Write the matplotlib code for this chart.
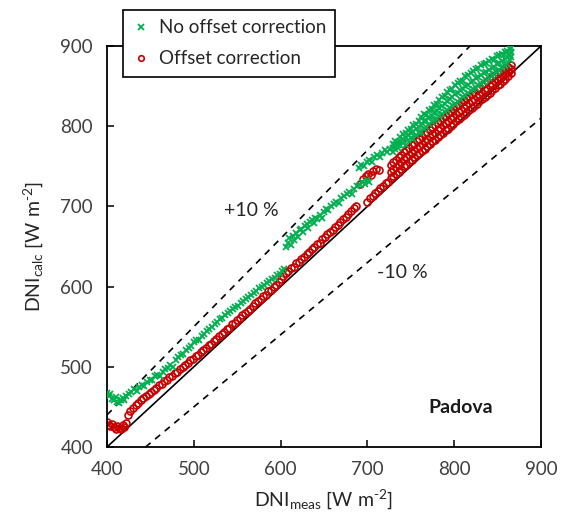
import numpy as np
import matplotlib
matplotlib.use("Agg")
import matplotlib.pyplot as plt

plt.rcParams['font.family'] = ['Lato', 'DejaVu Sans']
plt.rcParams['mathtext.default'] = 'regular'

# --- data (W m-2) ---
# no offset correction, lower part (single trace)
green_x = [400, 402, 404, 406, 408, 410, 412, 414, 416, 418, 420, 422, 425, 428, 431, 434, 437, 440,
           443, 446, 449, 452, 455, 458, 461, 464, 467, 470, 473, 476, 479, 482, 485, 488, 491, 494,
           497, 500, 503, 506, 509, 512, 515, 518, 521, 524, 527, 530, 533, 536, 539, 542, 545, 548,
           551, 554, 557, 560, 563, 566, 569, 572, 575, 578, 581, 584, 587, 590, 593, 596, 599, 602,
           604, 606, 608, 610, 612, 614, 616, 618, 620, 622, 624, 626, 628, 630, 632, 634, 636, 638,
           640, 642, 645, 648, 650, 652, 655, 658, 661, 664, 667, 670, 673, 676, 679, 682, 685, 688,
           691, 694, 697, 700, 702, 690, 693, 696, 699, 702, 705, 708, 711, 714, 717, 720, 723, 726]
green_y = [467, 463, 466, 460, 458, 462, 456, 455, 458, 461, 459, 463, 466, 468, 472, 470, 475, 477,
           476, 481, 484, 483, 488, 490, 489, 494, 497, 499, 502, 500, 509, 512, 515, 516, 521, 524,
           526, 531, 534, 534, 539, 541, 545, 547, 550, 553, 556, 559, 561, 564, 567, 569, 572, 574,
           576, 579, 582, 584, 587, 590, 592, 595, 598, 600, 602, 605, 607, 609, 611, 614, 616, 619,
           622, 650, 655, 660, 652, 663, 658, 667, 662, 670, 672, 668, 675, 678, 673, 680, 683, 679,
           686, 684, 689, 686, 693, 697, 695, 700, 703, 706, 704, 710, 713, 715, 718, 716, 722, 725,
           727, 730, 728, 733, 731, 748, 752, 750, 755, 758, 756, 761, 764, 762, 767, 770, 768, 772]
# no offset correction, upper dense band (lower edge / middle / upper edge)
green_band_x = [729, 732, 735, 738, 741, 744, 747, 750, 753, 756, 759, 762, 765, 768, 771, 774, 777,
                780, 783, 786, 789, 792, 795, 798, 801, 804, 807, 810, 813, 816, 819, 822, 825, 828,
                831, 834, 837, 840, 843, 846, 849, 852, 855, 858, 861, 864, 866]
green_band_lo = [768, 771, 773, 776, 779, 777, 783, 785, 784, 789, 792, 793, 797, 799, 803, 805, 808,
                 809, 813, 815, 818, 820, 823, 826, 828, 830, 834, 836, 839, 841, 844, 846, 848, 851,
                 853, 855, 858, 860, 862, 865, 867, 870, 872, 875, 878, 882, 886]
green_band_mid = [773, 776, 777, 781, 784, 785, 789, 791, 793, 796, 799, 802, 806, 807, 811, 813, 817,
                  819, 823, 825, 828, 831, 834, 837, 840, 842, 845, 846, 850, 852, 855, 857, 860, 861,
                  864, 866, 868, 870, 873, 874, 877, 879, 881, 884, 886, 889, 892]
green_band_hi = [778, 782, 780, 787, 790, 792, 795, 797, 801, 803, 806, 812, 815, 814, 820, 822, 826,
                 828, 833, 836, 838, 843, 845, 847, 852, 854, 857, 856, 862, 864, 866, 869, 871, 872,
                 876, 877, 879, 881, 884, 883, 887, 889, 890, 893, 894, 896, 898]

# offset correction, lower part
red_x = [400, 402, 404, 406, 408, 410, 412, 414, 416, 418, 420, 422, 424, 427, 430, 433, 436, 439,
         442, 445, 448, 451, 454, 457, 460, 463, 466, 469, 472, 475, 478, 481, 484, 487, 490, 493,
         496, 499, 502, 505, 508, 511, 514, 517, 520, 523, 526, 529, 532, 535, 538, 541, 544, 547,
         550, 553, 556, 559, 562, 565, 568, 571, 574, 577, 580, 583, 586, 589, 592, 595, 598, 600,
         603, 606, 609, 612, 615, 618, 621, 624, 627, 630, 633, 636, 639, 642, 645, 648, 651, 654,
         657, 660, 663, 666, 669, 672, 675, 678, 681, 684, 687, 692, 695, 698, 701, 704, 707, 710,
         713, 700, 703, 706, 709, 712, 715, 718, 721, 724]
red_y = [431, 428, 426, 429, 425, 423, 426, 424, 422, 427, 425, 430, 440, 445, 449, 452, 455, 458,
         461, 463, 466, 469, 471, 474, 477, 479, 482, 484, 487, 489, 492, 494, 497, 500, 502, 505,
         508, 510, 513, 515, 519, 521, 524, 527, 529, 532, 535, 538, 541, 543, 547, 549, 553, 555,
         558, 561, 564, 567, 570, 572, 576, 579, 582, 584, 588, 590, 594, 596, 600, 602, 606, 610,
         613, 617, 619, 623, 625, 629, 631, 635, 637, 641, 643, 647, 649, 653, 655, 659, 662, 665,
         668, 671, 674, 677, 680, 684, 687, 691, 694, 698, 701, 728, 734, 738, 741, 739, 744, 747,
         745, 706, 710, 713, 717, 719, 723, 726, 729, 731]
# offset correction, upper dense band
red_band_x = [727, 730, 733, 736, 739, 742, 745, 748, 751, 754, 757, 760, 763, 766, 769, 772, 775,
              778, 781, 784, 787, 790, 793, 796, 799, 802, 805, 808, 811, 814, 817, 820, 823, 826,
              829, 832, 835, 838, 841, 844, 847, 850, 853, 856, 859, 862, 865]
red_band_lo = [735, 738, 741, 743, 747, 750, 752, 756, 758, 761, 764, 766, 769, 772, 775, 778, 781,
               783, 787, 789, 792, 795, 797, 800, 803, 806, 809, 811, 814, 817, 820, 823, 825, 828,
               831, 834, 836, 839, 842, 845, 848, 851, 853, 856, 859, 862, 866]
red_band_mid = [743, 747, 749, 752, 755, 759, 761, 764, 767, 770, 773, 775, 778, 781, 784, 787, 790,
                792, 795, 798, 801, 804, 806, 809, 812, 815, 818, 820, 823, 826, 829, 831, 834, 837,
                839, 842, 845, 847, 850, 853, 856, 858, 860, 863, 865, 868, 871]
red_band_hi = [752, 756, 758, 762, 764, 768, 770, 773, 776, 778, 782, 784, 787, 790, 793, 795, 799,
               801, 804, 807, 810, 813, 816, 818, 821, 825, 827, 830, 832, 835, 838, 840, 843, 846,
               848, 851, 854, 856, 859, 861, 864, 866, 868, 870, 872, 874, 876]

gx = np.concatenate([green_x, green_band_x, green_band_x, green_band_x])
gy = np.concatenate([green_y, green_band_lo, green_band_mid, green_band_hi])
rx = np.concatenate([red_x, red_band_x, red_band_x, red_band_x])
ry = np.concatenate([red_y, red_band_lo, red_band_mid, red_band_hi])

green = '#00B050'
red = '#C80000'

fig = plt.figure(figsize=(5.62, 5.23), dpi=100)
ax = fig.add_axes([0.1904, 0.1453, 0.7722, 0.7667])

lim = np.array([400, 900])
ax.plot(lim, lim, color='black', lw=1.2, zorder=1)
ax.plot(lim, lim * 1.1, color='black', lw=1.2, ls=(0, (4, 3.5)), zorder=1)
ax.plot(lim, lim * 0.9, color='black', lw=1.2, ls=(0, (4, 3.5)), zorder=1)

ax.plot(gx, gy, ls='none', marker='x', ms=5, mew=1.3, color=green,
        label='No offset correction', zorder=3)
ax.plot(rx, ry, ls='none', marker='o', ms=5, mew=1.2, mfc='none', mec=red,
        label='Offset correction', zorder=2)

ax.set_xlim(400, 900)
ax.set_ylim(400, 900)
ax.set_xticks([400, 500, 600, 700, 800, 900])
ax.set_yticks([400, 500, 600, 700, 800, 900])
ax.tick_params(direction='in', length=5, width=1.1, labelsize=13.5, colors='black',
               labelcolor='#404040', pad=10)
for s in ax.spines.values():
    s.set_linewidth(1.3)

ax.set_xlabel('DNI$_{meas}$ [W m$^{\u20102}$]', fontsize=14, color='#262626', labelpad=7)
ax.set_ylabel('DNI$_{calc}$ [W m$^{\u20102}$]', fontsize=14, color='#262626', labelpad=11)

ax.text(566, 695, '+10 %', fontsize=14, color='#262626', ha='center', va='center')
ax.text(740, 617, '-10 %', fontsize=14, color='#262626', ha='center', va='center')
ax.text(807, 449, 'Padova', fontsize=14, fontweight='bold', color='#1a1a1a',
        ha='center', va='center')

leg = fig.legend(loc='upper left', bbox_to_anchor=(0.219, 0.981), fontsize=13.5,
                 frameon=True, fancybox=False, edgecolor='black', framealpha=1,
                 handlelength=0.9, handletextpad=0.5, borderpad=0.5, labelspacing=0.75,
                 borderaxespad=0, markerscale=0.8)
leg.get_frame().set_linewidth(1.2)
for t in leg.get_texts():
    t.set_color('#262626')

fig.savefig('out.png', dpi=100)
